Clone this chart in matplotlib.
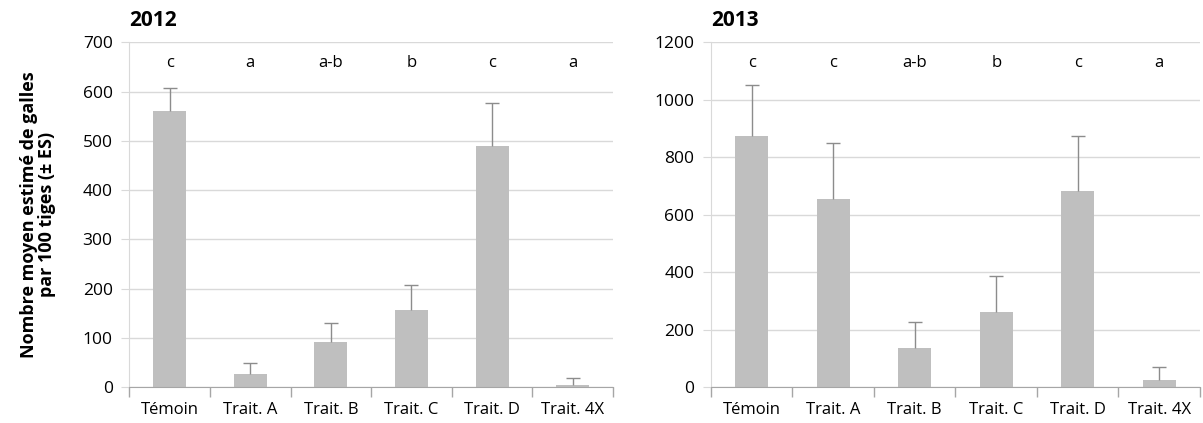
import numpy as np
import matplotlib.pyplot as plt

plt.rcParams['font.family'] = ['Open Sans', 'DejaVu Sans']

categories = ["Témoin", "Trait. A", "Trait. B", "Trait. C", "Trait. D", "Trait. 4X"]

means_2012 = [560, 26, 92, 157, 489, 5]
err_2012 = [48, 22, 38, 50, 87, 13]
letters_2012 = ["c", "a", "a-b", "b", "c", "a"]

means_2013 = [875, 656, 136, 261, 682, 23]
err_2013 = [175, 193, 91, 127, 192, 47]
letters_2013 = ["c", "c", "a-b", "b", "c", "a"]

bar_col = "#BFBFBF"
err_col = "#8C8C8C"
grid_col = "#D9D9D9"
axis_col = "#A6A6A6"

fig = plt.figure(figsize=(12.03, 4.23), dpi=100)
ax1 = fig.add_axes([0.1075, 0.085, 0.402, 0.815])
ax2 = fig.add_axes([0.591, 0.085, 0.4065, 0.815])


def draw(ax, means, errs, letters, ymax, step, title):
    x = np.arange(len(categories))
    tops = np.add(means, errs)
    ax.bar(x, means, width=0.41, color=bar_col, zorder=2)
    # only the upper half of the error bar, like Excel "plus" bars
    ax.vlines(x, means, tops, color=err_col, linewidth=1, zorder=3)
    ax.plot(x, tops, linestyle="none", marker="_", markersize=9.5,
            markeredgewidth=1, color=err_col, zorder=3)
    ax.set_xlim(-0.5, len(categories) - 0.5)
    ax.set_ylim(0, ymax)
    ax.set_yticks(np.arange(0, ymax + 1, step))
    ax.yaxis.grid(True, color=grid_col, linewidth=1, zorder=0)
    ax.set_axisbelow(True)
    ax.set_xticks(np.arange(-0.5, len(categories), 1.0))
    ax.set_xticklabels([])
    ax.set_xticks(x, minor=True)
    ax.set_xticklabels(categories, minor=True)
    ax.tick_params(axis="x", which="major", length=7, color=axis_col, width=1)
    ax.tick_params(axis="x", which="minor", length=0, pad=11, labelsize=12)
    ax.tick_params(axis="y", length=6, color=grid_col, labelsize=12.5, pad=6)
    for s in ["top", "right"]:
        ax.spines[s].set_visible(False)
    ax.spines["bottom"].set_color(axis_col)
    ax.spines["left"].set_color(grid_col)
    for xi, lab in zip(x, letters):
        ax.text(xi, ymax * 0.939, lab, ha="center", va="center", fontsize=12)
    ax.text(0.0, 1.062, title, transform=ax.transAxes, ha="left", va="center",
            fontsize=15, fontweight="bold")


draw(ax1, means_2012, err_2012, letters_2012, 700, 100, "2012")
draw(ax2, means_2013, err_2013, letters_2013, 1200, 200, "2013")

ax1.set_ylabel("Nombre moyen estimé de galles\npar 100 tiges (± ES)",
               fontsize=13, fontweight="bold", labelpad=19, linespacing=1.05)

fig.savefig("out.png", dpi=100)
